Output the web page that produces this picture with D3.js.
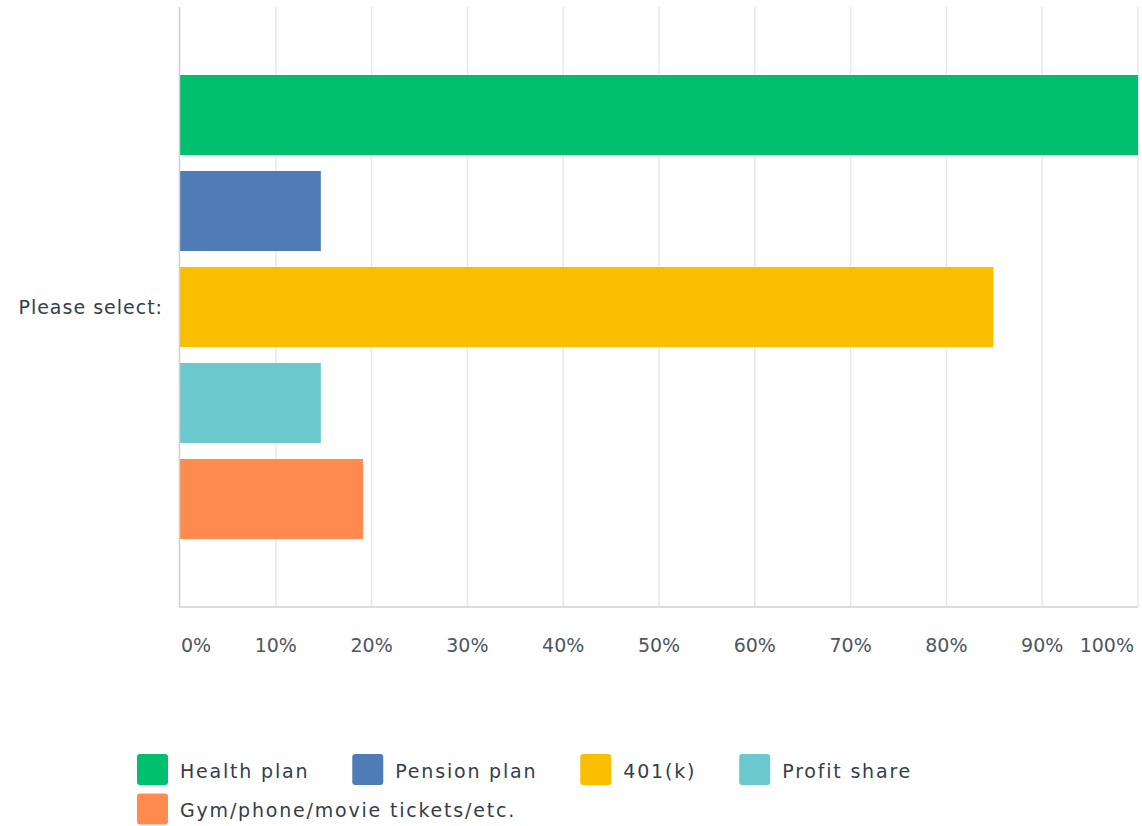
<!DOCTYPE html>
<html>
<head>
<meta charset="utf-8">
<script src="https://cdn.jsdelivr.net/npm/d3@7"></script>
<style>
  body { margin: 0; background: #fff; }
  text { font-family: "DejaVu Sans", sans-serif; fill: #333e48; letter-spacing: 1px; }
</style>
</head>
<body>
<div id="chart"></div>
<script>
// data
let categories = ["Please select:"];
let seriesNames = ["Health plan", "Pension plan", "401(k)", "Profit share", "Gym/phone/movie tickets/etc."];
let seriesValues = [100, 14.7, 84.9, 14.7, 19.1];
let seriesColors = ["#00bf6f", "#507cb6", "#f9be00", "#6bc8cd", "#ff8b4f"];
let tickValues = [0, 10, 20, 30, 40, 50, 60, 70, 80, 90, 100];

let width = 1142, height = 826;
let margin = {top: 7, left: 180, right: 4, plotBottom: 607};

let svg = d3.select("#chart").append("svg")
    .attr("width", width)
    .attr("height", height);

let x = d3.scaleLinear()
    .domain([0, 100])
    .range([margin.left, width - margin.right]);

let y = d3.scaleBand()
    .domain(categories)
    .range([margin.top, margin.plotBottom]);

// 80px bars, 16px gaps inside the single category band
let inner = d3.scaleBand()
    .domain(seriesNames)
    .range([0, y.bandwidth()])
    .paddingInner(1 / 6)
    .paddingOuter(0.7083);

// gridlines
svg.append("g")
    .selectAll("line")
    .data(tickValues.slice(1))
    .join("line")
    .attr("x1", d => x(d)).attr("x2", d => x(d))
    .attr("y1", margin.top).attr("y2", margin.plotBottom)
    .attr("stroke", "#e8e8e8")
    .attr("stroke-width", 1.5);

// bars
categories.forEach(cat => {
    svg.append("g")
        .selectAll("rect")
        .data(seriesValues.map((v, i) => ({name: seriesNames[i], value: v, color: seriesColors[i]})))
        .join("rect")
        .attr("x", x(0))
        .attr("y", d => y(cat) + inner(d.name))
        .attr("width", d => x(d.value) - x(0))
        .attr("height", inner.bandwidth())
        .attr("fill", d => d.color);

    svg.append("text")
        .attr("x", margin.left - 17)
        .attr("y", y(cat) + y.bandwidth() / 2)
        .attr("dy", "0.35em")
        .attr("text-anchor", "end")
        .style("font-size", "19px")
        .text(cat);
});

// axes lines
svg.append("line")
    .attr("x1", x(0) - 0.5).attr("x2", x(0) - 0.5)
    .attr("y1", margin.top).attr("y2", margin.plotBottom)
    .attr("stroke", "#d0d0d0").attr("stroke-width", 1.5);
svg.append("line")
    .attr("x1", x(0) - 1).attr("x2", x(100))
    .attr("y1", margin.plotBottom).attr("y2", margin.plotBottom)
    .attr("stroke", "#d0d0d0").attr("stroke-width", 1.5);

// tick labels
svg.append("g")
    .selectAll("text")
    .data(tickValues)
    .join("text")
    .attr("x", (d, i) => i === 0 ? x(d) + 1 : (i === tickValues.length - 1 ? x(d) - 4 : x(d)))
    .attr("y", 652)
    .attr("text-anchor", (d, i) => i === 0 ? "start" : (i === tickValues.length - 1 ? "end" : "middle"))
    .style("font-size", "19px")
    .style("letter-spacing", "0px")
    .style("fill", "#4d5660")
    .text(d => d + "%");

// legend
let legend = svg.append("g");
let lx = 137, ly = 754;
let rowItems = [[0, 1, 2, 3], [4]];
rowItems.forEach((row, r) => {
    lx = 137;
    row.forEach(i => {
        let item = legend.append("g").attr("transform", "translate(" + lx + "," + (ly + r * 39.5) + ")");
        item.append("rect")
            .attr("width", 31).attr("height", 31)
            .attr("rx", 3)
            .attr("fill", seriesColors[i]);
        let t = item.append("text")
            .attr("x", 43)
            .attr("y", 17)
            .attr("dy", "0.35em")
            .style("font-size", "19px")
            .style("letter-spacing", "1.8px")
            .text(seriesNames[i]);
        lx += 43 + t.node().getComputedTextLength() + 43;
    });
});
</script>
</body>
</html>
